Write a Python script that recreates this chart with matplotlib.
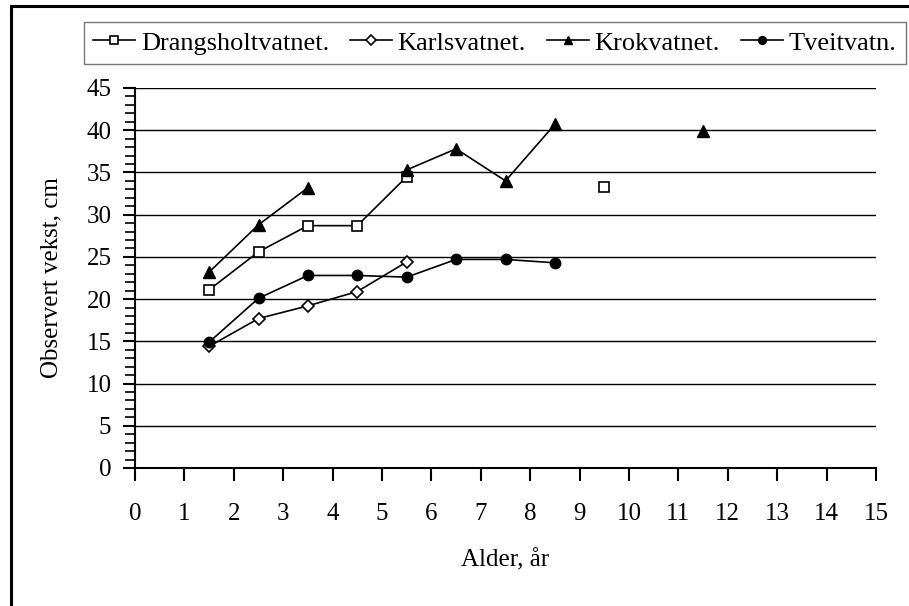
import numpy as np
import matplotlib
matplotlib.use("Agg")
import matplotlib.pyplot as plt
from matplotlib.lines import Line2D

plt.rcParams['font.family'] = ['Liberation Serif', 'DejaVu Serif']

ages = [1.5, 2.5, 3.5, 4.5, 5.5, 6.5, 7.5, 8.5, 9.5, 10.5, 11.5]
nan = np.nan
drangsholtvatnet = [21.1, 25.6, 28.7, 28.7, 34.5, nan, nan, nan, 33.3, nan, nan]
karlsvatnet = [14.4, 17.7, 19.2, 20.9, 24.4, nan, nan, nan, nan, nan, nan]
krokvatnet = [23.2, 28.8, 33.2, nan, 35.3, 37.8, 34.0, 40.7, nan, nan, 39.9]
tveitvatn = [14.9, 20.1, 22.8, 22.8, 22.6, 24.7, 24.7, 24.3, nan, nan, nan]
names = ["Drangsholtvatnet.", "Karlsvatnet.", "Krokvatnet.", "Tveitvatn."]
xticks = list(range(0, 16))
yticks = list(range(0, 50, 5))

W, H = 909, 606
fig = plt.figure(figsize=(W / 100, H / 100), dpi=100)
ax = fig.add_axes([135 / W, 1 - 468 / H, (876 - 135) / W, (468 - 88) / H])

styles = [
    dict(marker='s', mfc='white', mec='black', ms=7, mew=1.2),
    dict(marker='D', mfc='white', mec='black', ms=6.5, mew=1.2),
    dict(marker='^', mfc='black', mec='black', ms=8.5, mew=1.0),
    dict(marker='o', mfc='black', mec='black', ms=7.5, mew=1.0),
]
series = [drangsholtvatnet, karlsvatnet, krokvatnet, tveitvatn]
handles = []
for vals, st, name in zip(series, styles, names):
    ln, = ax.plot(ages, vals, color='black', lw=1.2, label=name, zorder=3, **st)
    handles.append(ln)

ax.set_xlim(0, 15)
ax.set_ylim(0, 45)
ax.set_xticks(xticks)
ax.set_yticks(yticks)
ax.set_yticks(np.arange(0, 46, 1), minor=True)
ax.yaxis.grid(True, which='major', color='black', lw=1.0)
ax.set_axisbelow(True)
for s in ['top', 'right']:
    ax.spines[s].set_visible(False)
for s in ['left', 'bottom']:
    ax.spines[s].set_linewidth(1.5)
ax.tick_params(axis='y', which='major', direction='out', length=9, width=1.5, labelsize=18, pad=8)
ax.tick_params(axis='y', which='minor', direction='out', length=7, width=1.2)
ax.tick_params(axis='x', which='major', direction='out', length=9, width=1.5, labelsize=18, pad=16)
ax.tick_params(axis='x', which='minor', length=0)

ax.set_xlabel("Alder, år", fontsize=18, va='center')
ax.xaxis.set_label_coords(0.5, -(560 - 468) / 380)
ax.set_ylabel("Observert vekst, cm", fontsize=18, va='center')
ax.yaxis.set_label_coords(-(135 - 51) / 741, 0.5)

leg = fig.legend(handles=handles, loc='upper left', bbox_to_anchor=(84 / W, 1 - 22 / H),
                 ncol=4, fontsize=19, frameon=True, fancybox=False, shadow=False,
                 handlelength=1.6, handletextpad=0.2, columnspacing=0.8,
                 borderpad=0.35, borderaxespad=0, markerscale=0.75)
leg.get_frame().set_edgecolor('#555555')
leg.get_frame().set_linewidth(1.0)

# outer border (top and left visible)
fig.add_artist(Line2D([11 / W, 11 / W], [0, 1 - 6 / H], transform=fig.transFigure, color='black', lw=2.2))
fig.add_artist(Line2D([11 / W, 1], [1 - 6 / H, 1 - 6 / H], transform=fig.transFigure, color='black', lw=2.2))

fig.savefig("out.png", dpi=100)
